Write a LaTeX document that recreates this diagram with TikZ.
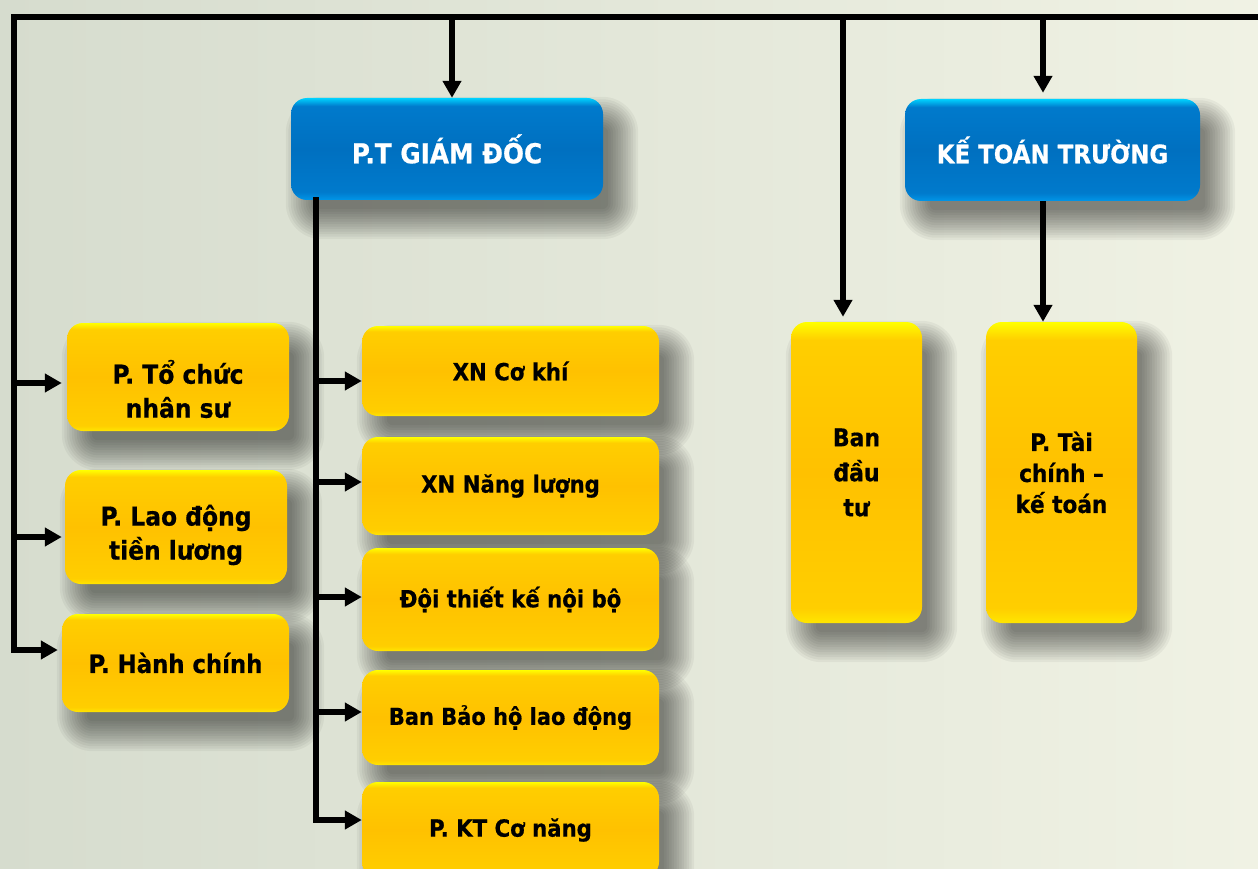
\documentclass[tikz,border=0pt]{standalone}
\usepackage{fontspec}
\setmainfont[FakeStretch=0.9,BoldFeatures={FakeBold=0.6}]{DejaVu Sans}
\usetikzlibrary{arrows.meta,calc}
\definecolor{yT}{RGB}{255,255,0}
\definecolor{yM}{RGB}{255,206,0}
\definecolor{yC}{RGB}{255,193,0}
\definecolor{yE}{RGB}{255,230,0}
\definecolor{bT}{RGB}{0,210,255}
\definecolor{bM}{RGB}{0,122,204}
\definecolor{bC}{RGB}{0,112,192}
\definecolor{bE}{RGB}{0,150,232}
\definecolor{bgL}{RGB}{214,220,206}
\definecolor{bgR}{RGB}{240,242,228}
\pgfdeclareverticalshading{yelshade}{100bp}{color(0bp)=(yE); color(25bp)=(yE); color(27.5bp)=(yM); color(50bp)=(yC); color(72bp)=(yM); color(75bp)=(yT); color(100bp)=(yT)}
\pgfdeclareverticalshading{blushade}{100bp}{color(0bp)=(bE); color(25bp)=(bE); color(29bp)=(bM); color(50bp)=(bC); color(71bp)=(bM); color(75bp)=(bT); color(100bp)=(bT)}
\pgfdeclarelayer{bglayer}
\pgfdeclarelayer{shadowlayer}
\pgfsetlayers{bglayer,shadowlayer,main}
\tikzset{
  bus/.style={line width=5.5pt, line join=miter, line cap=rect},
  arr/.style={line width=5.5pt, line join=miter, -{Triangle[width=18pt,length=17pt]}},
  ybox/.style={rectangle, rounded corners=16pt, shading=yelshade, inner sep=0pt,
    font=\fontsize{23.6}{34}\selectfont\bfseries, align=center},
  bbox/.style={rectangle, rounded corners=16pt, shading=blushade, inner sep=0pt,
    text=white, font=\fontsize{25.5}{30}\selectfont\bfseries, align=center},
  ltext/.style={font=\fontsize{26}{34}\selectfont\bfseries, align=center},
  shadowpiece/.style={fill=black, opacity=0.042},
}
\newcommand{\boxshade}[1]{%
  \foreach \r in {-10,-7.5,...,22}{%
    \pgfmathsetmacro{\rc}{max(4,16+\r)}%
    \fill[shadowpiece, rounded corners=\rc pt]
      ($(#1.north west)+(15-\r,19-\r)$) rectangle ($(#1.south east)+(15+\r,19+\r)$);
  }%
}
\begin{document}
\begin{tikzpicture}[x=1pt,y=-1pt]
\useasboundingbox (0,0) rectangle (1258,869);
\begin{pgfonlayer}{bglayer}
\fill[left color=bgL, right color=bgR] (0,0) rectangle (1258,869);
\end{pgfonlayer}

% top level boxes
\node[bbox, minimum width=312pt, minimum height=102pt, font=\fontsize{27.5}{30}\selectfont\bfseries] (ptgd) at (447,149) {P.T GIÁM ĐỐC};
\node[bbox, minimum width=295pt, minimum height=102pt] (ktt) at (1052.5,150) {KẾ TOÁN TRƯỜNG};

% vertical yellow boxes
\node[ybox, minimum width=131pt, minimum height=301pt, font=\fontsize{24.4}{35}\selectfont\bfseries] (bandt) at (856.5,472.5) {Ban\\đầu\\tư};
\node[ybox, minimum width=151pt, minimum height=301pt, font=\fontsize{24}{31}\selectfont\bfseries] (taichinh) at (1061.5,472.5) {P. Tài\\chính –\\kế toán};

% right column
\node[ybox, minimum width=297pt, minimum height=90pt] (xnck) at (510.5,371) {XN Cơ khí};
\node[ybox, minimum width=297pt, minimum height=98pt] (xnnl) at (510.5,486) {XN Năng lượng};
\node[ybox, minimum width=297pt, minimum height=103pt] (doitk) at (510.5,599.5) {Đội thiết kế nội bộ};
\node[ybox, minimum width=297pt, minimum height=95pt, font=\fontsize{23.3}{34}\selectfont\bfseries] (banbh) at (510.5,717.5) {Ban Bảo hộ lao động};
\node[ybox, minimum width=297pt, minimum height=96pt] (ktcn) at (510.5,830) {P. KT Cơ năng};

% left column
\node[ybox, minimum width=222pt, minimum height=108pt] (tochuc) at (178,377) {};
\node[ltext] (tochuct) at (178,389) {P. Tổ chức\\nhân sư};
\node[ybox, minimum width=222pt, minimum height=114pt] (laodong) at (176,527) {};
\node[ltext] (laodongt) at (176,535) {P. Lao động\\tiền lương};
\node[ybox, minimum width=227pt, minimum height=98pt, font=\fontsize{25.3}{34}\selectfont\bfseries] (hanhchinh) at (175.5,663) {P. Hành chính};

% shadows
\begin{pgfonlayer}{shadowlayer}
\foreach \n in {ptgd,ktt,bandt,taichinh,xnck,xnnl,doitk,banbh,ktcn,tochuc,laodong,hanhchinh}{\boxshade{\n}}
\end{pgfonlayer}

% bus coordinates
\coordinate (tl) at (14,17);
\coordinate (tr) at (1262,17);
\coordinate (bl) at (14,650);
\coordinate (t1) at (452,17);
\coordinate (t2) at (843,17);
\coordinate (t3) at (1043,17);
\coordinate (l1) at (14,383);
\coordinate (l2) at (14,537);
\coordinate (pb) at (316,820);
\coordinate (p1) at (316,381);
\coordinate (p2) at (316,482);
\coordinate (p3) at (316,597);
\coordinate (p4) at (316,712);

% main bus
\draw[bus] (tr) -- (tl) -- (bl);
\draw[arr, shorten >=4pt] (bl) -- (bl -| hanhchinh.west);
\draw[arr, shorten >=5pt] (l1) -- (l1 -| tochuc.west);
\draw[arr, shorten >=3pt] (l2) -- (l2 -| laodong.west);
\draw[arr] (t1) -- (t1 |- ptgd.north);
\draw[arr, shorten >=6pt] (t3) -- (t3 |- ktt.north);
\draw[arr, shorten >=5pt] (t2) -- (t2 |- bandt.north);
\draw[arr] (t3 |- ktt.south) -- (t3 |- taichinh.north);

% P.T Giam doc bus
\draw[bus] (ptgd.south -| pb) -- (pb);
\draw[arr] (pb) -- (pb -| ktcn.west);
\draw[arr] (p1) -- (p1 -| xnck.west);
\draw[arr] (p2) -- (p2 -| xnnl.west);
\draw[arr] (p3) -- (p3 -| doitk.west);
\draw[arr] (p4) -- (p4 -| banbh.west);
\end{tikzpicture}
\end{document}
